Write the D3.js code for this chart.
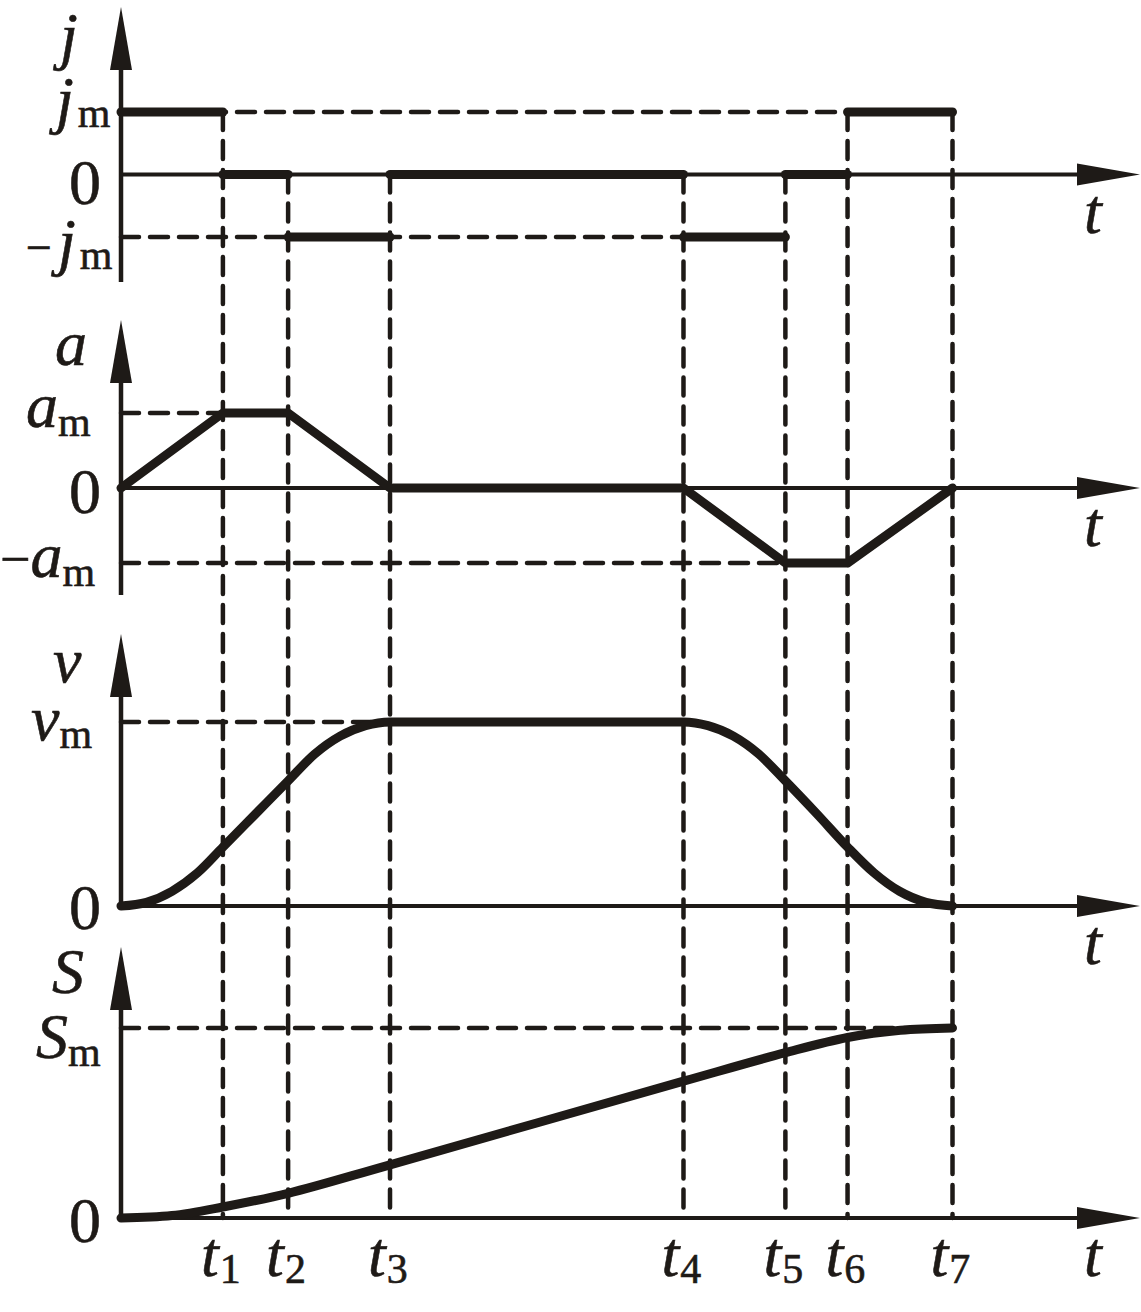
<!DOCTYPE html>
<html>
<head>
<meta charset="utf-8">
<script src="https://cdn.jsdelivr.net/npm/d3@7"></script>
<style>
  html, body { margin: 0; padding: 0; background: #fff; }
  svg { display: block; }
  text { font-family: "Liberation Serif", "Times New Roman", serif; fill: #1e1a17; }
</style>
</head>
<body>
<div id="chart"></div>
<script>
// ---- data (time in arbitrary units, values normalised to the max level) ----
const tickNames = ['1', '2', '3', '4', '5', '6', '7'];
const tickTimes = [1.0, 1.64, 2.64, 5.52, 6.52, 7.13, 8.16];

// jerk is constant on each interval [t(i-1), t(i)]
const jerkValues = [1, 0, -1, 0, -1, 0, 1];

// acceleration at 0, t1 ... t7
const accelValues = [0, 1, 1, 0, 0, -1, -1, 0];

// velocity
const velTimes  = [0, 0.25, 0.5, 0.75, 1.0, 1.32, 1.64, 1.9, 2.15, 2.4, 2.64, 5.52, 5.76, 6.01, 6.26, 6.52, 6.83, 7.13, 7.39, 7.64, 7.9, 8.16];
const velValues = [0, 0.02, 0.08, 0.18, 0.32, 0.5, 0.68, 0.825, 0.923, 0.98, 1, 1, 0.98, 0.923, 0.825, 0.68, 0.5, 0.32, 0.18, 0.08, 0.02, 0];

// displacement
const posTimes  = [0, 0.5, 1.0, 1.64, 2.64, 5.52, 6.52, 7.13, 7.65, 8.16];
const posValues = [0, 0.013, 0.058, 0.13, 0.28, 0.72, 0.87, 0.95, 0.988, 1.0];

// ---- layout ----
const W = 1141, H = 1312;
const ink = '#1e1a17';
const x = d3.scaleLinear().domain([0, 10]).range([121, 1140]);
const x0 = x(0);

const yJ = d3.scaleLinear().domain([-1, 1]).range([237, 112]);
const yA = d3.scaleLinear().domain([-1, 1]).range([563, 413]);
const yV = d3.scaleLinear().domain([0, 1]).range([906, 722]);
const yS = d3.scaleLinear().domain([0, 1]).range([1218, 1028]);

const svg = d3.select('#chart').append('svg')
    .attr('width', W)
    .attr('height', H);

const gDash = svg.append('g');
const gAxes = svg.append('g');
const gCurves = svg.append('g');
const gText = svg.append('g');

const allT = [0].concat(tickTimes);

function dashed(x1, y1, x2, y2) {
    gDash.append('line')
        .attr('x1', x1).attr('y1', y1).attr('x2', x2).attr('y2', y2)
        .attr('stroke', ink)
        .attr('stroke-width', 4.5)
        .attr('stroke-dasharray', '18 11')
        .attr('stroke-linecap', 'round');
}

// vertical guide lines: start at the highest jerk level touching t_i
tickTimes.forEach((t, i) => {
    const before = jerkValues[i];
    const after = i + 1 < jerkValues.length ? jerkValues[i + 1] : before;
    const top = yJ(Math.max(before, after, 0));
    dashed(x(t), top, x(t), yS(0));
});

// horizontal guide lines to the last time a level is reached
function lastTime(values, times, level) {
    let last = 0;
    values.forEach((v, i) => { if (v === level) last = times[i]; });
    return last;
}
dashed(x0, yJ(1), x(lastTime(jerkValues, tickTimes, 1)), yJ(1));
dashed(x0, yJ(-1), x(lastTime(jerkValues, tickTimes, -1)), yJ(-1));
dashed(x0, yA(1), x(lastTime(accelValues, allT, 1)), yA(1));
dashed(x0, yA(-1), x(lastTime(accelValues, allT, -1)), yA(-1));
dashed(x0, yV(1), x(lastTime(velValues, velTimes, 1)), yV(1));
dashed(x0, yS(1), x(lastTime(posValues, posTimes, 1)), yS(1));

// axes with arrow heads
const axes = [
    { zero: yJ(0), top: 7, bottom: 280 },
    { zero: yA(0), top: 320, bottom: 593 },
    { zero: yV(0), top: 634, bottom: yV(0) },
    { zero: yS(0), top: 947, bottom: yS(0) }
];
axes.forEach(a => {
    gAxes.append('line')
        .attr('x1', x0).attr('y1', a.zero).attr('x2', x(10) - 20).attr('y2', a.zero)
        .attr('stroke', ink).attr('stroke-width', 4);
    gAxes.append('path')
        .attr('d', `M${x(10)},${a.zero} L${x(10) - 63},${a.zero - 11} L${x(10) - 63},${a.zero + 11} Z`)
        .attr('fill', ink);
    gAxes.append('line')
        .attr('x1', x0).attr('y1', a.bottom + 2).attr('x2', x0).attr('y2', a.top + 20)
        .attr('stroke', ink).attr('stroke-width', 4.5);
    gAxes.append('path')
        .attr('d', `M${x0},${a.top} L${x0 - 11},${a.top + 63} L${x0 + 11},${a.top + 63} Z`)
        .attr('fill', ink);
});

// jerk: separate flat segments
jerkValues.forEach((v, i) => {
    gCurves.append('line')
        .attr('x1', x(allT[i])).attr('x2', x(allT[i + 1]))
        .attr('y1', yJ(v)).attr('y2', yJ(v))
        .attr('stroke', ink).attr('stroke-width', 9)
        .attr('stroke-linecap', 'round');
});

// acceleration: straight pieces
gCurves.append('path')
    .datum(allT.map((t, i) => [t, accelValues[i]]))
    .attr('d', d3.line().x(d => x(d[0])).y(d => yA(d[1])))
    .attr('fill', 'none').attr('stroke', ink).attr('stroke-width', 9)
    .attr('stroke-linecap', 'round').attr('stroke-linejoin', 'round');

// velocity: monotone keeps the cruise flat and tangent at t3 / t4
gCurves.append('path')
    .datum(velTimes.map((t, i) => [t, velValues[i]]))
    .attr('d', d3.line().x(d => x(d[0])).y(d => yV(d[1])).curve(d3.curveMonotoneX))
    .attr('fill', 'none').attr('stroke', ink).attr('stroke-width', 9)
    .attr('stroke-linecap', 'round');

// displacement
gCurves.append('path')
    .datum(posTimes.map((t, i) => [t, posValues[i]]))
    .attr('d', d3.line().x(d => x(d[0])).y(d => yS(d[1])).curve(d3.curveCatmullRom.alpha(0.5)))
    .attr('fill', 'none').attr('stroke', ink).attr('stroke-width', 9)
    .attr('stroke-linecap', 'round');

// ---- text ----
function label(px, py, parts, anchor) {
    const t = gText.append('text')
        .attr('x', px).attr('y', py)
        .attr('text-anchor', anchor || 'start')
        .attr('stroke', ink)
        .attr('stroke-width', 0.6);
    parts.forEach(p => {
        t.append('tspan')
            .attr('font-size', p.size || 64)
            .attr('font-style', p.italic ? 'italic' : 'normal')
            .attr('dy', p.dy || 0)
            .attr('dx', p.dx || 0)
            .text(p.t);
    });
}

// panel titles
label(60, 57, [{ t: 'j', italic: true }]);
label(55, 365, [{ t: 'a', italic: true }]);
label(53, 682, [{ t: 'v', italic: true }]);
label(52, 993, [{ t: 'S', italic: true }]);

// level labels
label(56, 121, [{ t: 'j', italic: true }, { t: 'm', size: 42, dy: 6, dx: 4 }]);
label(26, 263, [{ t: '−', size: 46 }, { t: 'j', italic: true, dx: 6 }, { t: 'm', size: 42, dy: 6, dx: 4 }]);
label(26, 427, [{ t: 'a', italic: true }, { t: 'm', size: 42, dy: 9 }]);
label(0, 577, [{ t: '−', size: 54 }, { t: 'a', italic: true }, { t: 'm', size: 42, dy: 9 }]);
label(31, 740, [{ t: 'v', italic: true }, { t: 'm', size: 42, dy: 8 }]);
label(36, 1058, [{ t: 'S', italic: true }, { t: 'm', size: 42, dy: 8 }]);

// zeros
[yJ(0) + 29, yA(0) + 25, yV(0) + 23, yS(0) + 24].forEach(by => {
    label(69, by, [{ t: '0' }]);
});

// t labels at the arrow heads
axes.forEach(a => label(1084, a.zero + 58, [{ t: 't', italic: true }]));

// tick labels under the bottom axis
tickTimes.forEach((t, i) => {
    label(x(t) - 22, 1276, [{ t: 't', italic: true }, { t: tickNames[i], size: 42, dy: 7, dx: 1 }]);
});
</script>
</body>
</html>
